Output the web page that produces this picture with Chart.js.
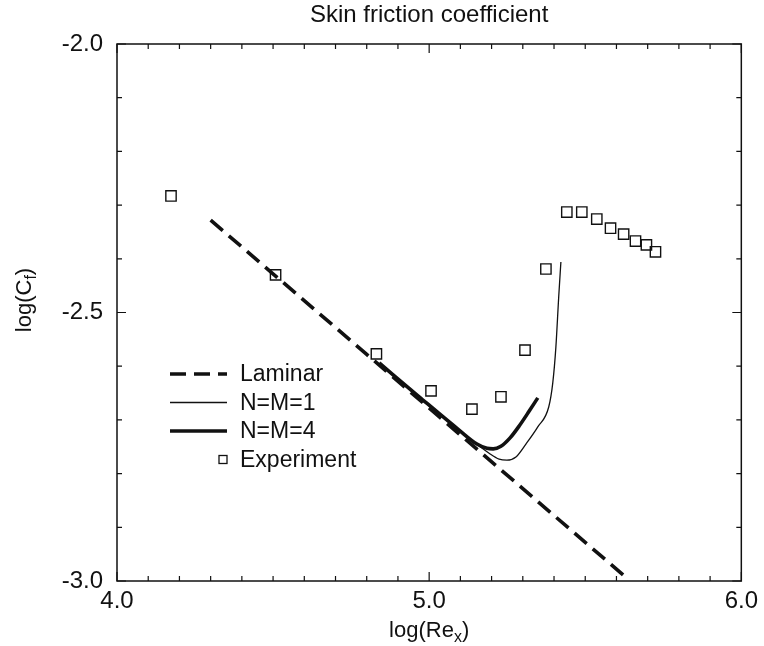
<!DOCTYPE html>
<html>
<head>
<meta charset="utf-8"/>
<style>
  body { margin: 0; padding: 0; background: #ffffff; }
  #wrap { width: 764px; height: 646px; }
</style>
</head>
<body>
<div id="wrap"><canvas id="cf" width="764" height="646"></canvas></div>
<script src="https://cdn.jsdelivr.net/npm/chart.js@4.4.1/dist/chart.umd.min.js"></script>
<script>
// values: x = log(Re_x), y = log(Cf)
var lamX = [4.30, 4.80, 5.30, 5.64];
var lamY = [-2.328, -2.578, -2.828, -2.998];

var nm1X = [4.840, 5.000, 5.128, 5.192, 5.224, 5.249, 5.278, 5.310, 5.348, 5.383, 5.396, 5.406, 5.415, 5.422];
var nm1Y = [-2.596, -2.674, -2.734, -2.762, -2.773, -2.775, -2.769, -2.745, -2.713, -2.676, -2.631, -2.564, -2.471, -2.406];

var nm4X = [4.840, 4.968, 5.096, 5.153, 5.185, 5.205, 5.230, 5.260, 5.290, 5.320, 5.348];
var nm4Y = [-2.594, -2.657, -2.719, -2.745, -2.753, -2.754, -2.749, -2.733, -2.710, -2.684, -2.659];

var expX = [4.173, 4.508, 4.831, 5.006, 5.137, 5.230, 5.307, 5.374, 5.441, 5.489, 5.537, 5.581, 5.623, 5.661, 5.696, 5.725];
var expY = [-2.283, -2.430, -2.577, -2.646, -2.680, -2.657, -2.570, -2.419, -2.313, -2.313, -2.326, -2.343, -2.354, -2.367, -2.374, -2.387];

var xLabels = ['4.0', '5.0', '6.0'];
var yLabels = ['-2.0', '-2.5', '-3.0'];

var INK = '#111111';
var FONT = '"Liberation Sans", Arial, Helvetica, sans-serif';

function pts(xs, ys) {
  return xs.map(function (x, i) { return { x: x, y: ys[i] }; });
}

// inward ticks on all four sides, plot frame, titles, legend
var framePlugin = {
  id: 'frame',
  afterDraw: function (chart) {
    var ctx = chart.ctx, a = chart.chartArea;
    var xs = chart.scales.x, ys = chart.scales.y;
    ctx.save();
    ctx.strokeStyle = INK;
    ctx.lineWidth = 1.5;
    ctx.strokeRect(a.left, a.top, a.right - a.left, a.bottom - a.top);

    ctx.lineWidth = 1.2;
    ctx.beginPath();
    var i, p, len;
    for (i = 0; i <= 20; i++) {
      p = xs.getPixelForValue(4 + i / 10);
      len = (i % 10 === 0) ? 9 : 5;
      ctx.moveTo(p, a.bottom); ctx.lineTo(p, a.bottom - len);
      ctx.moveTo(p, a.top); ctx.lineTo(p, a.top + len);
    }
    for (i = 0; i <= 10; i++) {
      p = ys.getPixelForValue(-2 - i / 10);
      len = (i % 5 === 0) ? 9 : 5;
      ctx.moveTo(a.left, p); ctx.lineTo(a.left + len, p);
      ctx.moveTo(a.right, p); ctx.lineTo(a.right - len, p);
    }
    ctx.stroke();

    // title
    var cx = (a.left + a.right) / 2;
    ctx.fillStyle = INK;
    ctx.textAlign = 'center';
    ctx.textBaseline = 'middle';
    ctx.font = '24px ' + FONT;
    ctx.fillText('Skin friction coefficient', cx, 15);

    // x axis title with subscript
    ctx.textAlign = 'left';
    ctx.textBaseline = 'alphabetic';
    var t1 = 'log(Re', sub = 'x', t2 = ')';
    ctx.font = '16px ' + FONT;
    var ws = ctx.measureText(sub).width;
    ctx.font = '22px ' + FONT;
    var w1 = ctx.measureText(t1).width, w2 = ctx.measureText(t2).width;
    var x0 = cx - (w1 + ws + w2) / 2, base = 637;
    ctx.fillText(t1, x0, base);
    ctx.font = '16px ' + FONT;
    ctx.fillText(sub, x0 + w1, base + 5);
    ctx.font = '22px ' + FONT;
    ctx.fillText(t2, x0 + w1 + ws, base);

    // y axis title, rotated, with subscript
    ctx.save();
    ctx.translate(31, 300);
    ctx.rotate(-Math.PI / 2);
    t1 = 'log(C'; sub = 'f';
    ctx.font = '16px ' + FONT;
    ws = ctx.measureText(sub).width;
    ctx.font = '22px ' + FONT;
    w1 = ctx.measureText(t1).width;
    x0 = -(w1 + ws + w2) / 2;
    ctx.fillText(t1, x0, 0);
    ctx.font = '16px ' + FONT;
    ctx.fillText(sub, x0 + w1, 5);
    ctx.font = '22px ' + FONT;
    ctx.fillText(t2, x0 + w1 + ws, 0);
    ctx.restore();

    // legend inside the plot
    var lx = a.left + 53, lw = 57, tx = a.left + 123, ly = a.top + 330, step = 28.5;
    ctx.font = '23px ' + FONT;
    ctx.textBaseline = 'middle';
    chart.data.datasets.forEach(function (ds, k) {
      var y = ly + k * step;
      if (ds.showLine === false) {
        ctx.lineWidth = 1.3;
        ctx.setLineDash([]);
        ctx.strokeRect(lx + lw - 4 - 4, y - 4, 8, 8);
      } else {
        ctx.lineWidth = ds.borderWidth;
        ctx.setLineDash(ds.borderDash || []);
        ctx.beginPath();
        ctx.moveTo(lx, y); ctx.lineTo(lx + lw, y);
        ctx.stroke();
      }
      ctx.setLineDash([]);
      ctx.fillText(ds.label, tx, y + 1);
    });
    ctx.restore();
  }
};

new Chart(document.getElementById('cf'), {
  type: 'scatter',
  data: {
    datasets: [
      { label: 'Laminar', data: pts(lamX, lamY), showLine: true, borderColor: INK, borderWidth: 3.6,
        borderDash: [16, 8], pointRadius: 0 },
      { label: 'N=M=1', data: pts(nm1X, nm1Y), showLine: true, borderColor: INK, borderWidth: 1.3,
        cubicInterpolationMode: 'monotone', pointRadius: 0 },
      { label: 'N=M=4', data: pts(nm4X, nm4Y), showLine: true, borderColor: INK, borderWidth: 3.6,
        cubicInterpolationMode: 'monotone', pointRadius: 0 },
      { label: 'Experiment', data: pts(expX, expY), showLine: false, pointStyle: 'rect',
        pointRadius: 7.3, borderColor: INK, borderWidth: 1.4, backgroundColor: 'rgba(0,0,0,0)' }
    ]
  },
  options: {
    responsive: false,
    animation: false,
    devicePixelRatio: 1,
    layout: { padding: { top: 44, right: 21, left: 0, bottom: 0 } },
    plugins: { legend: { display: false }, tooltip: { enabled: false }, title: { display: false } },
    scales: {
      x: {
        type: 'linear', min: 4, max: 6,
        grid: { display: false, drawTicks: false }, border: { display: false },
        afterFit: function (s) { s.height = 65; },
        afterBuildTicks: function (s) {
          s.ticks = xLabels.map(function (t) { return { value: parseFloat(t) }; });
        },
        ticks: {
          padding: 6, color: INK, maxRotation: 0, autoSkip: false,
          font: { family: FONT, size: 24 },
          callback: function (v) { return xLabels.find(function (t) { return parseFloat(t) === v; }); }
        }
      },
      y: {
        type: 'linear', min: -3, max: -2,
        grid: { display: false, drawTicks: false }, border: { display: false },
        afterFit: function (s) { s.width = 117; },
        afterBuildTicks: function (s) {
          s.ticks = yLabels.map(function (t) { return { value: parseFloat(t) }; });
        },
        ticks: {
          padding: 14, color: INK, autoSkip: false,
          font: { family: FONT, size: 24 },
          callback: function (v) { return yLabels.find(function (t) { return parseFloat(t) === v; }); }
        }
      }
    }
  },
  plugins: [framePlugin]
});
</script>
</body>
</html>
